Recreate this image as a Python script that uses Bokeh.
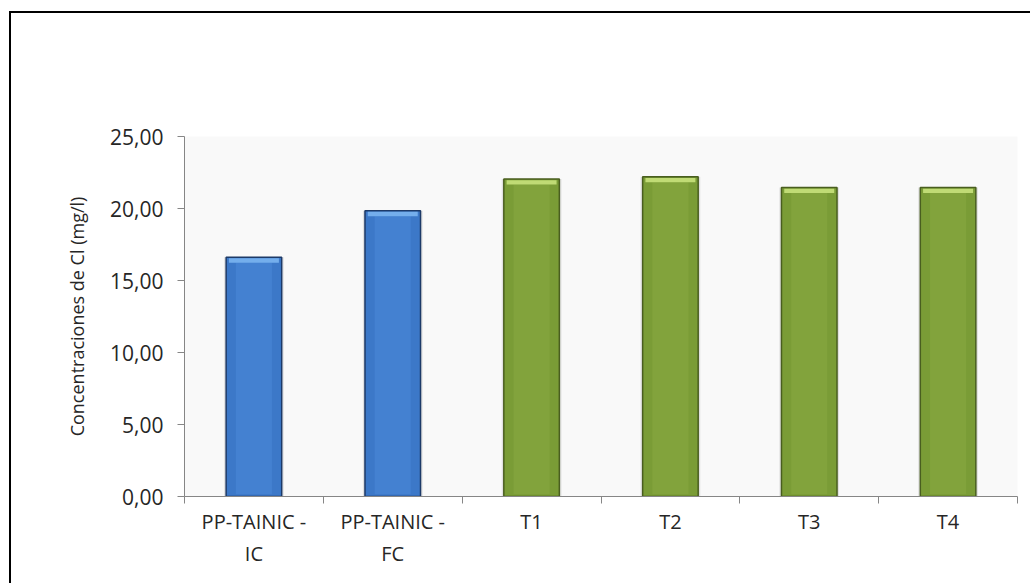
from bokeh.plotting import figure
from bokeh.models import FixedTicker, ColumnDataSource
from bokeh.embed import file_html
from bokeh.resources import INLINE

# Chloride concentration per sample
categories = ["PP-TAINIC -\nIC", "PP-TAINIC -\nFC", "T1", "T2", "T3", "T4"]
values = [16.62, 19.85, 22.05, 22.20, 21.45, 21.45]
groups = ["PP", "PP", "T", "T", "T", "T"]
y_ticks = [0, 5, 10, 15, 20, 25]
y_tick_labels = ["0,00", "5,00", "10,00", "15,00", "20,00", "25,00"]
y_title = "Concentraciones de Cl (mg/l)"

palette = {
    "PP": dict(base="#3c78c8", edge="#1d3a68", inner="#4a88d8", top="#7ab4f0"),
    "T": dict(base="#7a9c36", edge="#495e1f", inner="#88aa42", top="#c8e27c"),
}

FONT = "Open Sans"

x = [i + 0.5 for i in range(len(categories))]
src = ColumnDataSource(dict(
    x=x,
    top=values,
    hl_top=[v - 0.08 for v in values],
    hl_bottom=[v - 0.38 for v in values],
    base=[palette[g]["base"] for g in groups],
    edge=[palette[g]["edge"] for g in groups],
    inner=[palette[g]["inner"] for g in groups],
    topc=[palette[g]["top"] for g in groups],
))

# the chart sits inside a box whose left/top edges are drawn with CSS
OFF_X, OFF_Y = 11, 13
p = figure(width=1032 - OFF_X, height=585 - OFF_Y,
           output_backend="svg", toolbar_location=None,
           x_range=(0, len(categories)), y_range=(0, 25),
           min_border_left=184 - OFF_X, min_border_right=15,
           min_border_top=136 - OFF_Y, min_border_bottom=89)
p.styles = {"margin-left": "9px", "margin-top": "11px",
            "border-left": "2px solid black", "border-top": "2px solid black"}
p.background_fill_color = "#f9f9f9"
p.border_fill_color = "white"
p.outline_line_color = None
p.grid.visible = False

# soft shadow behind each bar
p.vbar(x="x", top="top", bottom=0, width=0.43, source=src,
       fill_color="#000000", fill_alpha=0.10, line_color=None)
# bar body
p.vbar(x="x", top="top", bottom=0, width=0.40, source=src,
       fill_color="base", line_color="edge", line_width=1.5)
# lighter glass core
p.vbar(x="x", top="hl_bottom", bottom=0.15, width=0.26, source=src,
       fill_color="inner", fill_alpha=0.55, line_color=None)
# top highlight band
p.vbar(x="x", top="hl_top", bottom="hl_bottom", width=0.36, source=src,
       fill_color="topc", fill_alpha=0.9, line_color=None)

axis_color = "#868686"
text_color = "#262626"

xa = p.xaxis[0]
xa.ticker = FixedTicker(ticks=x, minor_ticks=list(range(len(categories) + 1)))
xa.major_label_overrides = {xi: c for xi, c in zip(x, categories)}
xa.major_tick_out = 0
xa.major_tick_in = 0
xa.minor_tick_out = 7
xa.minor_tick_in = 0
xa.minor_tick_line_color = axis_color
xa.axis_line_color = axis_color
xa.major_label_standoff = 4
xa.major_label_text_font = FONT
xa.major_label_text_font_size = "20px"
xa.major_label_text_color = text_color
xa.major_label_orientation = "horizontal"

ya = p.yaxis[0]
ya.ticker = FixedTicker(ticks=y_ticks, minor_ticks=[])
ya.major_label_overrides = {t: l for t, l in zip(y_ticks, y_tick_labels)}
ya.major_tick_out = 7
ya.major_tick_in = 0
ya.major_tick_line_color = axis_color
ya.axis_line_color = axis_color
ya.major_label_standoff = 14
ya.major_label_text_font = FONT
ya.major_label_text_font_size = "21px"
ya.major_label_text_color = text_color
ya.axis_label = y_title
ya.axis_label_text_font = FONT
ya.axis_label_text_font_size = "18px"
ya.axis_label_text_font_style = "normal"
ya.axis_label_text_color = text_color
ya.axis_label_standoff = 18

open("out.html", "w").write(file_html(p, INLINE))
